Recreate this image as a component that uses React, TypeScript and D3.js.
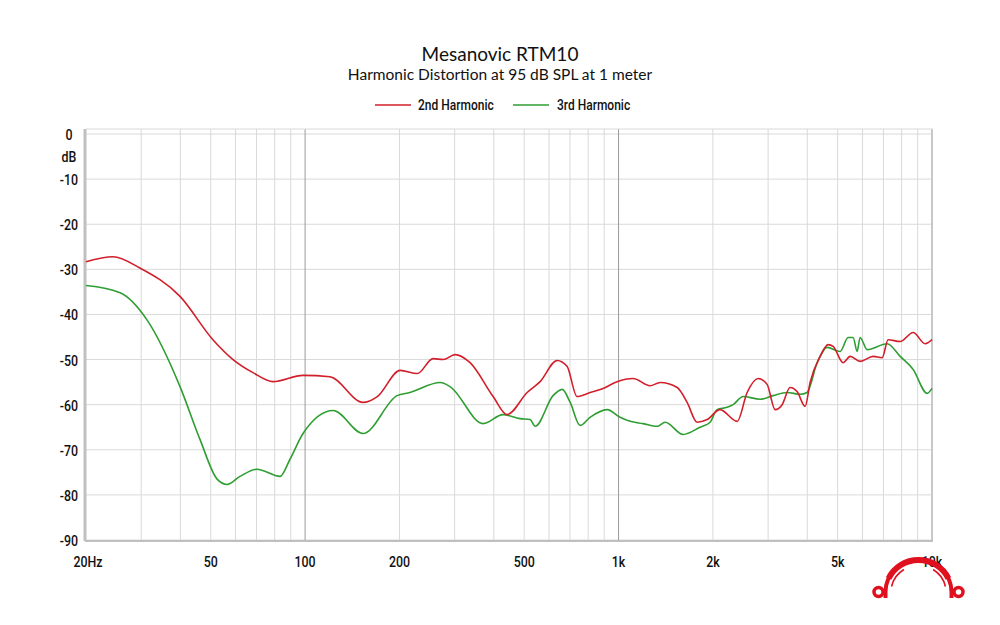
import React from "react";
import * as d3 from "d3";

const title = "Mesanovic RTM10";
const subtitle = "Harmonic Distortion at 95 dB SPL at 1 meter";
const seriesNames = ["2nd Harmonic", "3rd Harmonic"];
const seriesColors = ["#d11f2b", "#2e9e32"];

const yTicks = [0, -10, -20, -30, -40, -50, -60, -70, -80, -90];
const xTickValues = [20, 50, 100, 200, 500, 1000, 2000, 5000, 10000];
const xTickLabels = ["20Hz", "50", "100", "200", "500", "1k", "2k", "5k", "10k"];
const majorGrid = [100, 1000];

const h2Freq = [20, 24.4, 29.7, 39.9, 50.8, 58.9, 68.2, 79, 98.5, 120, 153, 170, 201, 228, 256, 276, 301, 336, 398, 441, 511, 562, 637, 685, 737, 811, 893, 989, 1113, 1261, 1357, 1538, 1655, 1781, 1917, 2108, 2390, 2572, 2788, 2978, 3158, 3326, 3526, 3712, 3938, 4084, 4398, 4664, 4838, 5206, 5482, 5898, 6490, 6934, 7244, 7914, 8708, 9508, 10000];
const h2Db = [-28.3, -27.2, -29.7, -36, -45.6, -50, -52.9, -54.9, -53.5, -53.8, -59.5, -58.2, -52.4, -53.1, -49.8, -50, -48.9, -50.7, -58.2, -62.2, -57.3, -54.9, -50.2, -51.5, -58.2, -57.3, -56.4, -54.9, -54.2, -55.8, -55.1, -56.2, -59.5, -63.9, -63.3, -61.1, -63.7, -57.3, -54.2, -55.5, -61.1, -60, -56.2, -57.1, -60.4, -55.1, -49.3, -46.7, -47.1, -50.7, -49.3, -50.4, -49.3, -49.6, -45.6, -46, -44, -46.5, -45.6];

const h3Freq = [20, 25.7, 31.3, 39.9, 46.2, 52.4, 56.4, 62, 70.2, 83.2, 89.5, 98.5, 123, 153, 196.5, 216, 270, 290, 370, 428, 485, 522, 542, 618, 661, 701, 754, 811, 919, 1011, 1089, 1198, 1327, 1408, 1607, 1820, 1959, 2062, 2220, 2320, 2498, 2830, 3112, 3450, 3795, 3994, 4300, 4628, 5092, 5400, 5602, 5770, 5898, 6210, 7192, 7914, 8708, 9650, 10000];
const h3Db = [-33.6, -35.2, -41.2, -56, -67.7, -76.5, -77.7, -75.9, -74.3, -75.9, -72.1, -66.4, -61.3, -66.4, -58, -57.3, -55.1, -56, -64.2, -62.2, -63.1, -63.3, -64.8, -58, -56.6, -59.5, -64.6, -62.8, -61.1, -62.8, -63.7, -64.2, -64.8, -63.9, -66.6, -65, -63.9, -61.1, -60.6, -60, -58.2, -58.8, -58, -57.3, -57.7, -57.3, -50.7, -47.3, -48.2, -45.1, -45.1, -48.2, -45.1, -47.8, -46.5, -49.3, -52.2, -57.5, -56.4];

const W = 1000;
const H = 625;
const left = 86;
const right = 932;
const top = 134;
const bottom = 540;

const labelFont = "'Roboto', 'DejaVu Sans', sans-serif";
const titleFont = "'Lato', 'Noto Sans', sans-serif";

function Narrow(props: { x: number; y: number; anchor: string; children: React.ReactNode; size?: number }) {
  return (
    <g transform={`translate(${props.x},${props.y}) scale(0.8,1)`}>
      <text
        x={0}
        y={0}
        textAnchor={props.anchor as any}
        fontFamily={labelFont}
        fontWeight={500}
        fontSize={props.size || 15.5}
        fill="#111"
      >
        {props.children}
      </text>
    </g>
  );
}

export default function App() {
  const x = d3.scaleLog().domain([20, 10000]).range([left, right]);
  const y = d3.scaleLinear().domain([-90, 0]).range([bottom, top]);

  const minor: number[] = [];
  for (const dec of [10, 100, 1000]) {
    for (let k = 1; k <= 9; k++) {
      const f = k * dec;
      if (f > 20 && f < 10000 && !majorGrid.includes(f)) minor.push(f);
    }
  }

  const line = d3
    .line<[number, number]>()
    .x((d) => x(d[0]))
    .y((d) => y(d[1]))
    .curve(d3.curveMonotoneX);

  const s2 = h2Freq.map((f, i) => [f, h2Db[i]] as [number, number]);
  const s3 = h3Freq.map((f, i) => [f, h3Db[i]] as [number, number]);

  const lcx = 918.5;
  const lcy = 592;
  const red = "#e0101e";
  const arcPt = (rx: number, ry: number, deg: number): string => {
    const t = (deg * Math.PI) / 180;
    return `${lcx - rx * Math.cos(t)} ${lcy - ry * Math.sin(t)}`;
  };

  return (
    <svg width={W} height={H} style={{ display: "block", position: "absolute", left: 0, top: 0 }}>
      <rect x={0} y={0} width={W} height={H} fill="#fff" />
      <text x={500} y={61} textAnchor="middle" fontFamily={titleFont} fontSize={19} fill="#111">
        {title}
      </text>
      <text x={500} y={80} textAnchor="middle" fontFamily={titleFont} fontSize={15.5} fill="#111">
        {subtitle}
      </text>

      {/* legend */}
      <line x1={375} x2={411} y1={105} y2={105} stroke={seriesColors[0]} strokeWidth={1.6} />
      <Narrow x={418} y={110} anchor="start" size={15}>
        {seriesNames[0]}
      </Narrow>
      <line x1={513} x2={549} y1={105} y2={105} stroke={seriesColors[1]} strokeWidth={1.6} />
      <Narrow x={557} y={110} anchor="start" size={15}>
        {seriesNames[1]}
      </Narrow>

      {/* grid */}
      {yTicks.map((t) => (
        <line key={"h" + t} x1={left} x2={right} y1={y(t)} y2={y(t)} stroke="#d9d9d9" strokeWidth={1} />
      ))}
      {minor.map((f) => (
        <line key={"v" + f} x1={x(f)} x2={x(f)} y1={top - 5} y2={bottom} stroke="#d9d9d9" strokeWidth={1} />
      ))}
      {majorGrid.map((f) => (
        <line key={"m" + f} x1={x(f)} x2={x(f)} y1={top - 5} y2={bottom} stroke="#9a9a9a" strokeWidth={1} />
      ))}

      {/* frame */}
      <line x1={right} x2={right} y1={top - 5} y2={bottom} stroke="#c8c8c8" strokeWidth={2} />
      <line x1={left} x2={right + 1} y1={top - 5} y2={top - 5} stroke="#d9d9d9" strokeWidth={1} />
      <line x1={left - 1} x2={right + 1} y1={bottom + 1} y2={bottom + 1} stroke="#c0c0c0" strokeWidth={2} />
      <line x1={left - 1} x2={left - 1} y1={top - 5} y2={bottom + 1} stroke="#c0c0c0" strokeWidth={3} />

      {/* curves */}
      <path d={line(s3) || ""} fill="none" stroke={seriesColors[1]} strokeWidth={1.6} />
      <path d={line(s2) || ""} fill="none" stroke={seriesColors[0]} strokeWidth={1.6} />

      {/* y labels */}
      {yTicks.map((t) => (
        <Narrow key={"yl" + t} x={t === 0 ? 69 : 78} y={y(t) + 6} anchor={t === 0 ? "middle" : "end"}>
          {t}
        </Narrow>
      ))}
      <Narrow x={69} y={162} anchor="middle">
        dB
      </Narrow>

      {/* x labels */}
      {xTickValues.map((f, i) => (
        <Narrow key={"xl" + f} x={x(f) + (i === 0 ? 2 : 0)} y={567} anchor="middle">
          {xTickLabels[i]}
        </Narrow>
      ))}

      {/* logo */}
      <g fill="none" stroke={red} strokeLinecap="butt">
        <path
          d={`M ${lcx - 33} ${lcy + 6} L ${arcPt(33, 32, 0)} A 33 32 0 0 1 ${arcPt(33, 32, 180)} L ${lcx + 33} ${lcy + 6}`}
          strokeWidth={4}
        />
        <path d={`M ${arcPt(33, 32, 25)} A 33 32 0 0 1 ${arcPt(33, 32, 155)}`} strokeWidth={6} />
        <path d={`M ${arcPt(27.5, 26.5, 12)} A 27.5 26.5 0 0 1 ${arcPt(27.5, 26.5, 58)}`} strokeWidth={1.6} />
        <path d={`M ${arcPt(27.5, 26.5, 168)} A 27.5 26.5 0 0 0 ${arcPt(27.5, 26.5, 122)}`} strokeWidth={1.6} />
        <ellipse cx={lcx - 40} cy={lcy} rx={4.5} ry={4.5} strokeWidth={3.5} />
        <ellipse cx={lcx + 40} cy={lcy} rx={4.5} ry={4.5} strokeWidth={3.5} />
      </g>
    </svg>
  );
}
